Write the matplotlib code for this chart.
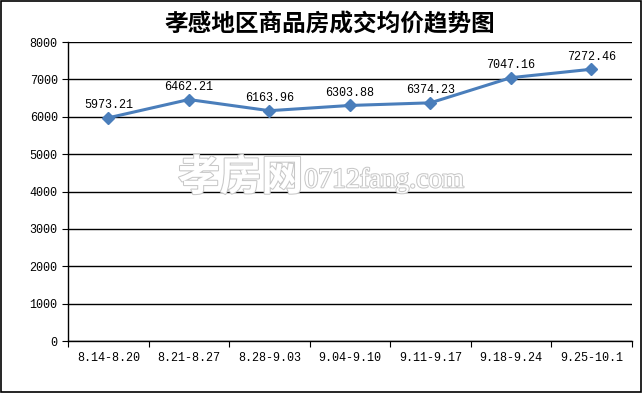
import matplotlib.pyplot as plt
import matplotlib.patheffects as pe
from matplotlib.patches import Rectangle

plt.rcParams['font.family'] = ['Noto Sans CJK SC', 'DejaVu Sans']

TITLE = "孝感地区商品房成交均价趋势图"
weeks = ["8.14-8.20", "8.21-8.27", "8.28-9.03", "9.04-9.10",
         "9.11-9.17", "9.18-9.24", "9.25-10.1"]
prices = [5973.21, 6462.21, 6163.96, 6303.88, 6374.23, 7047.16, 7272.46]

LINE_COLOR = "#4A7EBB"

fig = plt.figure(figsize=(6.42, 3.93), dpi=100)
ax = fig.add_axes([0.106, 0.132, 0.878, 0.761])

x = list(range(len(weeks)))
ax.plot(x, prices, color=LINE_COLOR, linewidth=2.2, marker="D",
        markersize=6, zorder=3)

for xi, p in zip(x, prices):
    ax.text(xi, p + 180, f"{p:.2f}", ha="center", va="bottom",
            fontsize=8.5, family="Liberation Mono", zorder=4)

ax.set_xlim(-0.5, len(weeks) - 0.5)
ax.set_ylim(0, 8000)
ax.set_yticks(range(0, 8001, 1000))
ax.set_xticks([i - 0.5 for i in range(len(weeks) + 1)], minor=False)
ax.set_xticklabels([])
ax.set_xticks(x, minor=True)
ax.set_xticklabels(weeks, minor=True, family="Liberation Mono", fontsize=8.5)
ax.tick_params(axis="x", which="minor", length=0, pad=8)
ax.tick_params(axis="x", which="major", length=4, direction="out")
ax.tick_params(axis="y", length=4, direction="out", labelsize=8.5)
for lab in ax.get_yticklabels():
    lab.set_family("Liberation Mono")

ax.grid(axis="y", color="black", linewidth=1)
for side in ["top", "right"]:
    ax.spines[side].set_visible(False)
ax.spines["left"].set_linewidth(1)
ax.spines["bottom"].set_linewidth(1)

# watermark
stroke = [pe.withStroke(linewidth=1.5, foreground="#c8c8c8")]
fig.text(0.472, 0.547, "孝房网", fontsize=30, color="white", ha="right",
         va="center", fontweight="bold", path_effects=stroke)
fig.text(0.474, 0.540, "0712fang.com", fontsize=20, color="white",
         ha="left", va="center", family="Liberation Serif",
         path_effects=stroke)

fig.text(0.513, 0.939, TITLE, ha="center", va="center",
         fontsize=17, fontweight="bold")

fig.patches.append(Rectangle((0.001, 0.002), 0.997, 0.996,
                             transform=fig.transFigure, fill=False,
                             edgecolor="black", linewidth=1.2))

fig.savefig("out.png", dpi=100)
